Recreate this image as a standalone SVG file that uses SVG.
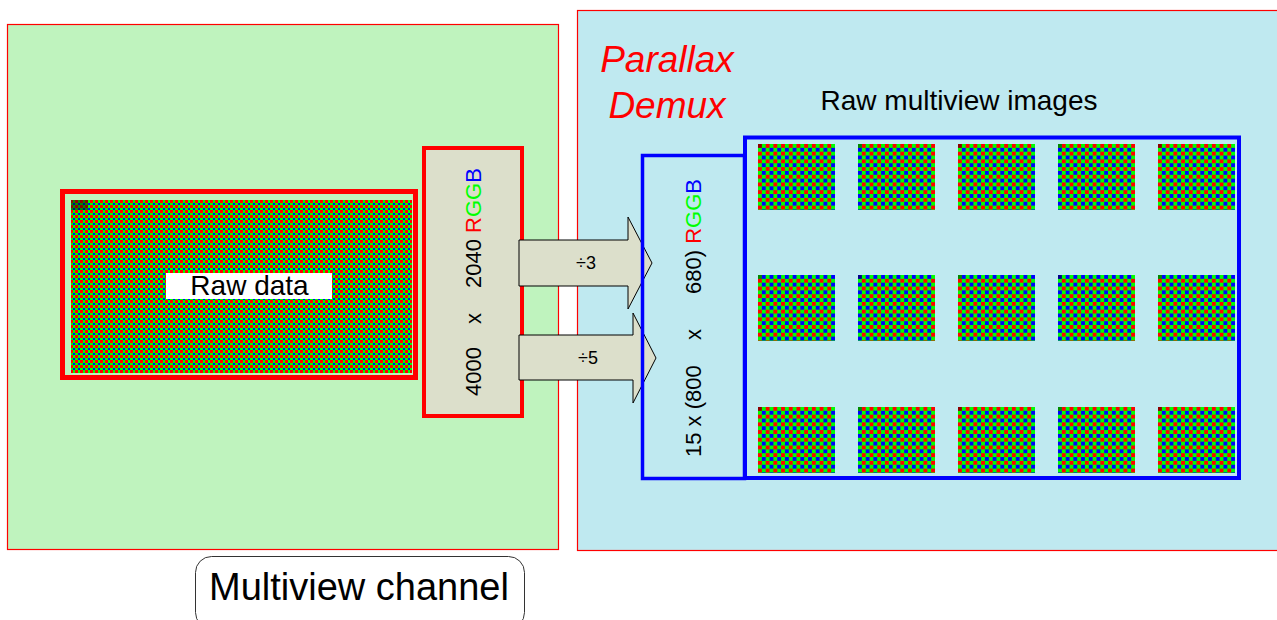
<svg xmlns="http://www.w3.org/2000/svg" width="1277" height="620" viewBox="0 0 1277 620">
<style>
text{font-family:"Liberation Sans",Arial,sans-serif;}
.panel{stroke:#FF0000;stroke-width:1.2;}
.tile{stroke:none;}
.dk{fill:#000;fill-opacity:0.45;}
.arrow{fill:#DCDFCB;stroke:#000;stroke-width:1;}
.vt{font-size:22px;fill:#000;}
.r{fill:#FF0000;}.g{fill:#00FF00;}.b{fill:#0000FF;}
</style>
<defs>
<pattern id="bayerL" width="5" height="5" patternUnits="userSpaceOnUse">
<rect width="5" height="5" fill="#00FF00"/><rect width="3" height="3" fill="#FF0000"/><rect x="3" y="3" width="2" height="2" fill="#0000FF"/>
</pattern>
<pattern id="pRG" width="7.7" height="7.7" patternUnits="userSpaceOnUse">
<rect width="7.7" height="7.7" fill="#00FF00"/><rect width="3.85" height="3.85" fill="#FF0000"/><rect x="3.85" y="3.85" width="3.85" height="3.85" fill="#0000FF"/>
</pattern>
<pattern id="pGR" width="7.7" height="7.7" patternUnits="userSpaceOnUse">
<rect width="7.7" height="7.7" fill="#00FF00"/><rect x="3.85" width="3.85" height="3.85" fill="#FF0000"/><rect y="3.85" width="3.85" height="3.85" fill="#0000FF"/>
</pattern>
<pattern id="pGB" width="7.7" height="7.7" patternUnits="userSpaceOnUse">
<rect width="7.7" height="7.7" fill="#00FF00"/><rect x="3.85" width="3.85" height="3.85" fill="#0000FF"/><rect y="3.85" width="3.85" height="3.85" fill="#FF0000"/>
</pattern>
<pattern id="pBG" width="7.7" height="7.7" patternUnits="userSpaceOnUse">
<rect width="7.7" height="7.7" fill="#00FF00"/><rect width="3.85" height="3.85" fill="#0000FF"/><rect x="3.85" y="3.85" width="3.85" height="3.85" fill="#FF0000"/>
</pattern>
</defs>

<g id="multiview-channel-panel">
<rect class="panel" x="7.5" y="24.5" width="551" height="525" fill="#BFF3BE"/>
</g>
<g id="parallax-demux-panel">
<rect class="panel" x="577.5" y="10.5" width="710" height="540" fill="#BFE9F0"/>
<text x="667" y="72" font-size="37" font-style="italic" fill="#FF0000" text-anchor="middle">Parallax</text>
<text x="667" y="118" font-size="37" font-style="italic" fill="#FF0000" text-anchor="middle">Demux</text>
<text x="959" y="110" font-size="28" fill="#000" text-anchor="middle">Raw multiview images</text>
</g>

<g id="raw-data">
<rect x="71" y="200" width="341" height="173" fill="url(#bayerL)"/>
<rect class="dk" x="71" y="200" width="17" height="10"/>
<rect x="62.5" y="191.5" width="353" height="186" fill="none" stroke="#FF0000" stroke-width="5"/>
<rect x="166" y="273" width="166" height="26" fill="#FFFFFF"/>
<text x="249.5" y="295" font-size="28" fill="#000" text-anchor="middle">Raw data</text>
</g>

<g id="sensor-size">
<rect x="424" y="148" width="98" height="268" fill="#DCDFCB" stroke="#FF0000" stroke-width="4"/>
<text class="vt" transform="translate(481,396) rotate(-90)"><tspan x="0">4000</tspan><tspan x="72">x</tspan><tspan x="108">2040 </tspan><tspan class="r">R</tspan><tspan class="g">GG</tspan><tspan class="b">B</tspan></text>
</g>

<g id="connectors">
<polygon class="arrow" points="519,240 628,240 628,217 652,263 628,309 628,286 519,286"/>
<polygon class="arrow" points="519,335 633,335 633,313 656,358 633,403 633,380 519,380"/>
<text x="586" y="269" font-size="18" fill="#000" text-anchor="middle">÷3</text>
<text x="588" y="364" font-size="18" fill="#000" text-anchor="middle">÷5</text>
</g>

<g id="view-size">
<rect x="642.5" y="155.5" width="102" height="323" fill="none" stroke="#0000FF" stroke-width="3.5"/>
<text class="vt" transform="translate(701,457) rotate(-90)"><tspan x="0">15 x (800</tspan><tspan x="117">x</tspan><tspan x="163">680) </tspan><tspan class="r">R</tspan><tspan class="g">GG</tspan><tspan class="b">B</tspan></text>
</g>

<g id="multiview-images">
<rect x="745" y="137.5" width="494" height="340.5" fill="none" stroke="#0000FF" stroke-width="4"/>
<g transform="translate(758,144)"><rect class="tile" width="77" height="66" fill="url(#pRG)"/><rect class="dk" width="3.85" height="3.85"/></g>
<g transform="translate(858,144)"><rect class="tile" width="77" height="66" fill="url(#pGR)"/><rect class="dk" width="3.85" height="3.85"/></g>
<g transform="translate(958,144)"><rect class="tile" width="77" height="66" fill="url(#pRG)"/><rect class="dk" width="3.85" height="3.85"/></g>
<g transform="translate(1058,144)"><rect class="tile" width="77" height="66" fill="url(#pGR)"/><rect class="dk" width="3.85" height="3.85"/></g>
<g transform="translate(1158,144)"><rect class="tile" width="77" height="66" fill="url(#pRG)"/><rect class="dk" width="3.85" height="3.85"/></g>
<g transform="translate(758,275)"><rect class="tile" width="77" height="66" fill="url(#pGB)"/><rect class="dk" width="3.85" height="3.85"/></g>
<g transform="translate(858,275)"><rect class="tile" width="77" height="66" fill="url(#pBG)"/><rect class="dk" width="3.85" height="3.85"/></g>
<g transform="translate(958,275)"><rect class="tile" width="77" height="66" fill="url(#pGB)"/><rect class="dk" width="3.85" height="3.85"/></g>
<g transform="translate(1058,275)"><rect class="tile" width="77" height="66" fill="url(#pBG)"/><rect class="dk" width="3.85" height="3.85"/></g>
<g transform="translate(1158,275)"><rect class="tile" width="77" height="66" fill="url(#pGB)"/><rect class="dk" width="3.85" height="3.85"/></g>
<g transform="translate(758,407)"><rect class="tile" width="77" height="66" fill="url(#pRG)"/><rect class="dk" width="3.85" height="3.85"/></g>
<g transform="translate(858,407)"><rect class="tile" width="77" height="66" fill="url(#pGR)"/><rect class="dk" width="3.85" height="3.85"/></g>
<g transform="translate(958,407)"><rect class="tile" width="77" height="66" fill="url(#pRG)"/><rect class="dk" width="3.85" height="3.85"/></g>
<g transform="translate(1058,407)"><rect class="tile" width="77" height="66" fill="url(#pGR)"/><rect class="dk" width="3.85" height="3.85"/></g>
<g transform="translate(1158,407)"><rect class="tile" width="77" height="66" fill="url(#pRG)"/><rect class="dk" width="3.85" height="3.85"/></g>
</g>

<g id="multiview-channel-label">
<rect x="195.5" y="556.5" width="329" height="72" rx="16" fill="#FFFFFF" stroke="#333333" stroke-width="1"/>
<text x="359" y="600" font-size="38" fill="#000" text-anchor="middle">Multiview channel</text>
</g>
</svg>
